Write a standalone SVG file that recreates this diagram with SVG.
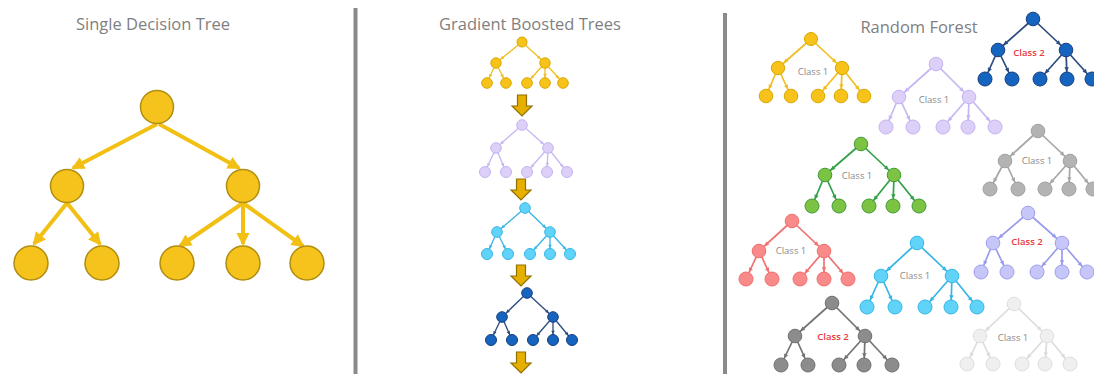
<svg xmlns="http://www.w3.org/2000/svg" xmlns:xlink="http://www.w3.org/1999/xlink" width="1094" height="374" viewBox="0 0 1094 374">
<style>
.title{font-family:"Open Sans","Noto Sans",sans-serif;font-size:16.5px;fill:#7f7f7f;text-anchor:middle}
.c1{font-family:"Open Sans","Noto Sans",sans-serif;font-size:9.5px;fill:#8a8a8a;text-anchor:middle}
.c2{font-family:"Open Sans","Noto Sans",sans-serif;font-size:9.5px;fill:#e8383d;font-weight:600;text-anchor:middle}
.div{stroke:#8a8a8a;stroke-width:4}
.big{fill:#F6C31C;stroke:#B08E10;stroke-width:1.5}
.bigE{stroke:#F2C014;stroke-width:4;fill:none;marker-end:url(#mbig)}
.darr{fill:#E6B000;stroke:#8F7000;stroke-width:1.2}
line{fill:none}
.gyel line{stroke:#F0BE1E;stroke-width:1.3;marker-end:url(#g-yel)}
.glav line{stroke:#C7B6F3;stroke-width:1.3;marker-end:url(#g-lav)}
.gcyn line{stroke:#35B5E5;stroke-width:1.3;marker-end:url(#g-cyn)}
.gdbl line{stroke:#2A4A80;stroke-width:1.3;marker-end:url(#g-dbl)}
.ryel line{stroke:#F0BE1E;stroke-width:1.7;marker-end:url(#m-yel)}
.rlav line{stroke:#C7B6F3;stroke-width:1.7;marker-end:url(#m-lav)}
.rdbl line{stroke:#2A4A80;stroke-width:1.7;marker-end:url(#m-dbl)}
.rgrn line{stroke:#2FA046;stroke-width:1.7;marker-end:url(#m-grn)}
.rgry line{stroke:#A6A6A6;stroke-width:1.7;marker-end:url(#m-gry)}
.rper line{stroke:#9B9BEC;stroke-width:1.7;marker-end:url(#m-per)}
.rsal line{stroke:#F07070;stroke-width:1.7;marker-end:url(#m-sal)}
.rcyn line{stroke:#35B5E5;stroke-width:1.7;marker-end:url(#m-cyn)}
.rdgy line{stroke:#737373;stroke-width:1.7;marker-end:url(#m-dgy)}
.rlgy line{stroke:#DCDCDC;stroke-width:1.7;marker-end:url(#m-lgy)}
.n-yel circle{fill:#F7C21A;stroke:#D9A800;stroke-width:1}
.n-lav circle{fill:#DCCFF8;stroke:#C5B2F2;stroke-width:1}
.n-dbl circle{fill:#1565C0;stroke:#183E7C;stroke-width:1}
.n-grn circle{fill:#7CC243;stroke:#3F9A35;stroke-width:1}
.n-gry circle{fill:#B3B3B3;stroke:#A0A0A0;stroke-width:1}
.n-per circle{fill:#C6C6F9;stroke:#9E9EEE;stroke-width:1}
.n-sal circle{fill:#F88A8A;stroke:#F26C6C;stroke-width:1}
.n-cyn circle{fill:#62D3F8;stroke:#33B7E6;stroke-width:1}
.n-dgy circle{fill:#8C8C8C;stroke:#707070;stroke-width:1}
.n-lgy circle{fill:#EFEFEF;stroke:#DEDEDE;stroke-width:1}
</style>
<defs>
<marker id="mbig" markerUnits="userSpaceOnUse" markerWidth="14" markerHeight="14" refX="11" refY="6.5" orient="auto" overflow="visible"><path d="M0,0 L13,6.5 L0,13 Z" fill="#F2C014"/></marker>
<marker id="g-yel" markerUnits="userSpaceOnUse" markerWidth="4" markerHeight="4" refX="9.2" refY="1.75" orient="auto" overflow="visible"><path d="M0,0 L3.5,1.75 L0,3.5 Z" fill="#F0BE1E"/></marker>
<marker id="g-lav" markerUnits="userSpaceOnUse" markerWidth="4" markerHeight="4" refX="9.2" refY="1.75" orient="auto" overflow="visible"><path d="M0,0 L3.5,1.75 L0,3.5 Z" fill="#C7B6F3"/></marker>
<marker id="g-cyn" markerUnits="userSpaceOnUse" markerWidth="4" markerHeight="4" refX="9.2" refY="1.75" orient="auto" overflow="visible"><path d="M0,0 L3.5,1.75 L0,3.5 Z" fill="#35B5E5"/></marker>
<marker id="g-dbl" markerUnits="userSpaceOnUse" markerWidth="4" markerHeight="4" refX="9.2" refY="1.75" orient="auto" overflow="visible"><path d="M0,0 L3.5,1.75 L0,3.5 Z" fill="#2A4A80"/></marker>
<marker id="m-yel" markerUnits="userSpaceOnUse" markerWidth="5" markerHeight="5" refX="11.8" refY="2.2" orient="auto" overflow="visible"><path d="M0,0 L4.4,2.2 L0,4.4 Z" fill="#F0BE1E"/></marker>
<marker id="m-lav" markerUnits="userSpaceOnUse" markerWidth="5" markerHeight="5" refX="11.8" refY="2.2" orient="auto" overflow="visible"><path d="M0,0 L4.4,2.2 L0,4.4 Z" fill="#C7B6F3"/></marker>
<marker id="m-dbl" markerUnits="userSpaceOnUse" markerWidth="5" markerHeight="5" refX="11.8" refY="2.2" orient="auto" overflow="visible"><path d="M0,0 L4.4,2.2 L0,4.4 Z" fill="#2A4A80"/></marker>
<marker id="m-grn" markerUnits="userSpaceOnUse" markerWidth="5" markerHeight="5" refX="11.8" refY="2.2" orient="auto" overflow="visible"><path d="M0,0 L4.4,2.2 L0,4.4 Z" fill="#2FA046"/></marker>
<marker id="m-gry" markerUnits="userSpaceOnUse" markerWidth="5" markerHeight="5" refX="11.8" refY="2.2" orient="auto" overflow="visible"><path d="M0,0 L4.4,2.2 L0,4.4 Z" fill="#A6A6A6"/></marker>
<marker id="m-per" markerUnits="userSpaceOnUse" markerWidth="5" markerHeight="5" refX="11.8" refY="2.2" orient="auto" overflow="visible"><path d="M0,0 L4.4,2.2 L0,4.4 Z" fill="#9B9BEC"/></marker>
<marker id="m-sal" markerUnits="userSpaceOnUse" markerWidth="5" markerHeight="5" refX="11.8" refY="2.2" orient="auto" overflow="visible"><path d="M0,0 L4.4,2.2 L0,4.4 Z" fill="#F07070"/></marker>
<marker id="m-cyn" markerUnits="userSpaceOnUse" markerWidth="5" markerHeight="5" refX="11.8" refY="2.2" orient="auto" overflow="visible"><path d="M0,0 L4.4,2.2 L0,4.4 Z" fill="#35B5E5"/></marker>
<marker id="m-dgy" markerUnits="userSpaceOnUse" markerWidth="5" markerHeight="5" refX="11.8" refY="2.2" orient="auto" overflow="visible"><path d="M0,0 L4.4,2.2 L0,4.4 Z" fill="#737373"/></marker>
<marker id="m-lgy" markerUnits="userSpaceOnUse" markerWidth="5" markerHeight="5" refX="11.8" refY="2.2" orient="auto" overflow="visible"><path d="M0,0 L4.4,2.2 L0,4.4 Z" fill="#DCDCDC"/></marker>
<path id="darr" d="M-4.5,0 H4.5 V11 H10 L0,21 L-10,11 H-4.5 Z"/>
</defs>
<rect width="1094" height="374" fill="#ffffff"/>

<line class="div" x1="355.5" y1="8" x2="355.5" y2="374"/>
<line class="div" x1="725" y1="13" x2="725" y2="374"/>

<text class="title" x="153" y="30">Single Decision Tree</text>
<text class="title" x="530" y="30">Gradient Boosted Trees</text>
<text class="title" x="919" y="33">Random Forest</text>

<g id="connectors">
  <g id="edges-single">
    <line class="bigE" x1="157" y1="124" x2="73" y2="168"/>
    <line class="bigE" x1="159" y1="124" x2="239" y2="168"/>
    <line class="bigE" x1="67" y1="203" x2="34" y2="244"/>
    <line class="bigE" x1="67" y1="203" x2="100" y2="244"/>
    <line class="bigE" x1="243" y1="203" x2="180" y2="246"/>
    <line class="bigE" x1="243" y1="203" x2="243" y2="244"/>
    <line class="bigE" x1="243" y1="203" x2="303" y2="246"/>
  </g>
  <g id="gbt-arrows" class="darr">
    <use href="#darr" x="522" y="95"/>
    <use href="#darr" x="521" y="179"/>
    <use href="#darr" x="521" y="265"/>
    <use href="#darr" x="521" y="352"/>
  </g>
  <g class="gyel">
    <line x1="522" y1="42" x2="496" y2="63"/><line x1="522" y1="42" x2="545" y2="63"/>
    <line x1="496" y1="63" x2="487" y2="83"/><line x1="496" y1="63" x2="506" y2="83"/>
    <line x1="545" y1="63" x2="527" y2="83"/><line x1="545" y1="63" x2="545" y2="83"/><line x1="545" y1="63" x2="563" y2="83"/>
  </g>
  <g class="glav">
    <line x1="522" y1="125" x2="496" y2="148"/><line x1="522" y1="125" x2="548" y2="148"/>
    <line x1="496" y1="148" x2="485" y2="172"/><line x1="496" y1="148" x2="506" y2="172"/>
    <line x1="548" y1="148" x2="527" y2="172"/><line x1="548" y1="148" x2="547" y2="172"/><line x1="548" y1="148" x2="567" y2="172"/>
  </g>
  <g class="gcyn">
    <line x1="525" y1="208" x2="497" y2="232"/><line x1="525" y1="208" x2="550" y2="232"/>
    <line x1="497" y1="232" x2="487" y2="254"/><line x1="497" y1="232" x2="508" y2="254"/>
    <line x1="550" y1="232" x2="530" y2="254"/><line x1="550" y1="232" x2="550" y2="254"/><line x1="550" y1="232" x2="570" y2="254"/>
  </g>
  <g class="gdbl">
    <line x1="527" y1="293" x2="502" y2="317"/><line x1="527" y1="293" x2="553" y2="317"/>
    <line x1="502" y1="317" x2="491" y2="340"/><line x1="502" y1="317" x2="512" y2="340"/>
    <line x1="553" y1="317" x2="533" y2="340"/><line x1="553" y1="317" x2="553" y2="340"/><line x1="553" y1="317" x2="572" y2="340"/>
  </g>
  <g class="ryel">
    <line x1="811" y1="39" x2="778" y2="68"/><line x1="811" y1="39" x2="842" y2="68"/>
    <line x1="778" y1="68" x2="766" y2="96"/><line x1="778" y1="68" x2="791" y2="96"/>
    <line x1="842" y1="68" x2="818" y2="96"/><line x1="842" y1="68" x2="841" y2="96"/><line x1="842" y1="68" x2="864" y2="96"/>
  </g>
  <g class="rlav">
    <line x1="936" y1="64" x2="899" y2="97"/><line x1="936" y1="64" x2="969" y2="97"/>
    <line x1="899" y1="97" x2="886" y2="127"/><line x1="899" y1="97" x2="913" y2="127"/>
    <line x1="969" y1="97" x2="943" y2="127"/><line x1="969" y1="97" x2="968" y2="127"/><line x1="969" y1="97" x2="995" y2="127"/>
  </g>
  <g class="rdbl">
    <line x1="1033" y1="19" x2="998" y2="50"/><line x1="1033" y1="19" x2="1066" y2="50"/>
    <line x1="998" y1="50" x2="985" y2="79"/><line x1="998" y1="50" x2="1012" y2="79"/>
    <line x1="1066" y1="50" x2="1040" y2="79"/><line x1="1066" y1="50" x2="1067" y2="79"/><line x1="1066" y1="50" x2="1092" y2="79"/>
  </g>
  <g class="rgrn">
    <line x1="861" y1="144" x2="825" y2="175"/><line x1="861" y1="144" x2="894" y2="175"/>
    <line x1="825" y1="175" x2="812" y2="206"/><line x1="825" y1="175" x2="839" y2="206"/>
    <line x1="894" y1="175" x2="869" y2="206"/><line x1="894" y1="175" x2="893" y2="206"/><line x1="894" y1="175" x2="919" y2="206"/>
  </g>
  <g class="rgry">
    <line x1="1038" y1="131" x2="1005" y2="161"/><line x1="1038" y1="131" x2="1070" y2="161"/>
    <line x1="1005" y1="161" x2="990" y2="189"/><line x1="1005" y1="161" x2="1018" y2="189"/>
    <line x1="1070" y1="161" x2="1045" y2="189"/><line x1="1070" y1="161" x2="1069" y2="189"/><line x1="1070" y1="161" x2="1093" y2="189"/>
  </g>
  <g class="rper">
    <line x1="1028" y1="213" x2="993" y2="243"/><line x1="1028" y1="213" x2="1062" y2="243"/>
    <line x1="993" y1="243" x2="981" y2="272"/><line x1="993" y1="243" x2="1007" y2="272"/>
    <line x1="1062" y1="243" x2="1037" y2="272"/><line x1="1062" y1="243" x2="1062" y2="272"/><line x1="1062" y1="243" x2="1087" y2="272"/>
  </g>
  <g class="rsal">
    <line x1="792" y1="221" x2="759" y2="251"/><line x1="792" y1="221" x2="824" y2="251"/>
    <line x1="759" y1="251" x2="746" y2="279"/><line x1="759" y1="251" x2="772" y2="279"/>
    <line x1="824" y1="251" x2="800" y2="279"/><line x1="824" y1="251" x2="824" y2="279"/><line x1="824" y1="251" x2="848" y2="279"/>
  </g>
  <g class="rcyn">
    <line x1="917" y1="243" x2="881" y2="276"/><line x1="917" y1="243" x2="952" y2="276"/>
    <line x1="881" y1="276" x2="867" y2="307"/><line x1="881" y1="276" x2="895" y2="307"/>
    <line x1="952" y1="276" x2="925" y2="307"/><line x1="952" y1="276" x2="951" y2="307"/><line x1="952" y1="276" x2="977" y2="307"/>
  </g>
  <g class="rdgy">
    <line x1="832" y1="303" x2="795" y2="336"/><line x1="832" y1="303" x2="865" y2="336"/>
    <line x1="795" y1="336" x2="781" y2="365"/><line x1="795" y1="336" x2="808" y2="365"/>
    <line x1="865" y1="336" x2="839" y2="365"/><line x1="865" y1="336" x2="864" y2="365"/><line x1="865" y1="336" x2="892" y2="365"/>
  </g>
  <g class="rlgy">
    <line x1="1014" y1="304" x2="980" y2="336"/><line x1="1014" y1="304" x2="1047" y2="336"/>
    <line x1="980" y1="336" x2="967" y2="364"/><line x1="980" y1="336" x2="993" y2="364"/>
    <line x1="1047" y1="336" x2="1022" y2="364"/><line x1="1047" y1="336" x2="1045" y2="364"/><line x1="1047" y1="336" x2="1070" y2="364"/>
  </g>
</g>

<g id="single-tree">
  <circle class="big" cx="157" cy="107" r="16.5"/>
  <circle class="big" cx="67" cy="186" r="16.5"/>
  <circle class="big" cx="243" cy="186" r="16.5"/>
  <circle class="big" cx="31" cy="263" r="17"/>
  <circle class="big" cx="102" cy="263" r="17"/>
  <circle class="big" cx="177" cy="263" r="17"/>
  <circle class="big" cx="243" cy="263" r="17"/>
  <circle class="big" cx="307" cy="263" r="17"/>
</g>

<g id="gbt-tree-1" class="n-yel">
  <circle cx="522" cy="42" r="5"/><circle cx="496" cy="63" r="5.2"/><circle cx="545" cy="63" r="5.2"/>
  <circle cx="487" cy="83" r="5.3"/><circle cx="506" cy="83" r="5.3"/><circle cx="527" cy="83" r="5.3"/><circle cx="545" cy="83" r="5.3"/><circle cx="563" cy="83" r="5.3"/>
</g>
<g id="gbt-tree-2" class="n-lav">
  <circle cx="522" cy="125" r="5.3"/><circle cx="496" cy="148" r="5.3"/><circle cx="548" cy="148" r="5.3"/>
  <circle cx="485" cy="172" r="5.5"/><circle cx="506" cy="172" r="5.5"/><circle cx="527" cy="172" r="5.5"/><circle cx="547" cy="172" r="5.5"/><circle cx="567" cy="172" r="5.5"/>
</g>
<g id="gbt-tree-3" class="n-cyn">
  <circle cx="525" cy="208" r="5.3"/><circle cx="497" cy="232" r="5.3"/><circle cx="550" cy="232" r="5.3"/>
  <circle cx="487" cy="254" r="5.5"/><circle cx="508" cy="254" r="5.5"/><circle cx="530" cy="254" r="5.5"/><circle cx="550" cy="254" r="5.5"/><circle cx="570" cy="254" r="5.5"/>
</g>
<g id="gbt-tree-4" class="n-dbl">
  <circle cx="527" cy="293" r="5.3"/><circle cx="502" cy="317" r="5.3"/><circle cx="553" cy="317" r="5.3"/>
  <circle cx="491" cy="340" r="5.5"/><circle cx="512" cy="340" r="5.5"/><circle cx="533" cy="340" r="5.5"/><circle cx="553" cy="340" r="5.5"/><circle cx="572" cy="340" r="5.5"/>
</g>

<g id="rf-tree-1" class="n-yel">
  <circle cx="811" cy="39" r="6.5"/><circle cx="778" cy="68" r="6.7"/><circle cx="842" cy="68" r="6.7"/>
  <circle cx="766" cy="96" r="6.8"/><circle cx="791" cy="96" r="6.8"/><circle cx="818" cy="96" r="6.8"/><circle cx="841" cy="96" r="6.8"/><circle cx="864" cy="96" r="6.8"/>
  <text class="c1" x="813" y="75">Class 1</text>
</g>
<g id="rf-tree-2" class="n-lav">
  <circle cx="936" cy="64" r="6.8"/><circle cx="899" cy="97" r="6.8"/><circle cx="969" cy="97" r="6.8"/>
  <circle cx="886" cy="127" r="7"/><circle cx="913" cy="127" r="7"/><circle cx="943" cy="127" r="7"/><circle cx="968" cy="127" r="7"/><circle cx="995" cy="127" r="7"/>
  <text class="c1" x="934" y="103">Class 1</text>
</g>
<g id="rf-tree-3" class="n-dbl">
  <circle cx="1033" cy="19" r="6.8"/><circle cx="998" cy="50" r="6.8"/><circle cx="1066" cy="50" r="6.8"/>
  <circle cx="985" cy="79" r="7"/><circle cx="1012" cy="79" r="7"/><circle cx="1040" cy="79" r="7"/><circle cx="1067" cy="79" r="7"/><circle cx="1092" cy="79" r="7"/>
  <text class="c2" x="1029" y="56">Class 2</text>
</g>
<g id="rf-tree-4" class="n-grn">
  <circle cx="861" cy="144" r="6.8"/><circle cx="825" cy="175" r="6.8"/><circle cx="894" cy="175" r="6.8"/>
  <circle cx="812" cy="206" r="7"/><circle cx="839" cy="206" r="7"/><circle cx="869" cy="206" r="7"/><circle cx="893" cy="206" r="7"/><circle cx="919" cy="206" r="7"/>
  <text class="c1" x="857" y="179">Class 1</text>
</g>
<g id="rf-tree-5" class="n-gry">
  <circle cx="1038" cy="131" r="6.8"/><circle cx="1005" cy="161" r="6.8"/><circle cx="1070" cy="161" r="6.8"/>
  <circle cx="990" cy="189" r="7"/><circle cx="1018" cy="189" r="7"/><circle cx="1045" cy="189" r="7"/><circle cx="1069" cy="189" r="7"/><circle cx="1093" cy="189" r="7"/>
  <text class="c1" x="1037" y="164">Class 1</text>
</g>
<g id="rf-tree-6" class="n-per">
  <circle cx="1028" cy="213" r="6.8"/><circle cx="993" cy="243" r="6.8"/><circle cx="1062" cy="243" r="6.8"/>
  <circle cx="981" cy="272" r="7"/><circle cx="1007" cy="272" r="7"/><circle cx="1037" cy="272" r="7"/><circle cx="1062" cy="272" r="7"/><circle cx="1087" cy="272" r="7"/>
  <text class="c2" x="1027" y="245">Class 2</text>
</g>
<g id="rf-tree-7" class="n-sal">
  <circle cx="792" cy="221" r="6.8"/><circle cx="759" cy="251" r="6.8"/><circle cx="824" cy="251" r="6.8"/>
  <circle cx="746" cy="279" r="7"/><circle cx="772" cy="279" r="7"/><circle cx="800" cy="279" r="7"/><circle cx="824" cy="279" r="7"/><circle cx="848" cy="279" r="7"/>
  <text class="c1" x="791" y="254">Class 1</text>
</g>
<g id="rf-tree-8" class="n-cyn">
  <circle cx="917" cy="243" r="6.8"/><circle cx="881" cy="276" r="6.8"/><circle cx="952" cy="276" r="6.8"/>
  <circle cx="867" cy="307" r="7"/><circle cx="895" cy="307" r="7"/><circle cx="925" cy="307" r="7"/><circle cx="951" cy="307" r="7"/><circle cx="977" cy="307" r="7"/>
  <text class="c1" x="915" y="279">Class 1</text>
</g>
<g id="rf-tree-9" class="n-dgy">
  <circle cx="832" cy="303" r="6.8"/><circle cx="795" cy="336" r="6.8"/><circle cx="865" cy="336" r="6.8"/>
  <circle cx="781" cy="365" r="7"/><circle cx="808" cy="365" r="7"/><circle cx="839" cy="365" r="7"/><circle cx="864" cy="365" r="7"/><circle cx="892" cy="365" r="7"/>
  <text class="c2" x="833" y="340">Class 2</text>
</g>
<g id="rf-tree-10" class="n-lgy">
  <circle cx="1014" cy="304" r="6.8"/><circle cx="980" cy="336" r="6.8"/><circle cx="1047" cy="336" r="6.8"/>
  <circle cx="967" cy="364" r="7"/><circle cx="993" cy="364" r="7"/><circle cx="1022" cy="364" r="7"/><circle cx="1045" cy="364" r="7"/><circle cx="1070" cy="364" r="7"/>
  <text class="c1" x="1013" y="341">Class 1</text>
</g>
</svg>
